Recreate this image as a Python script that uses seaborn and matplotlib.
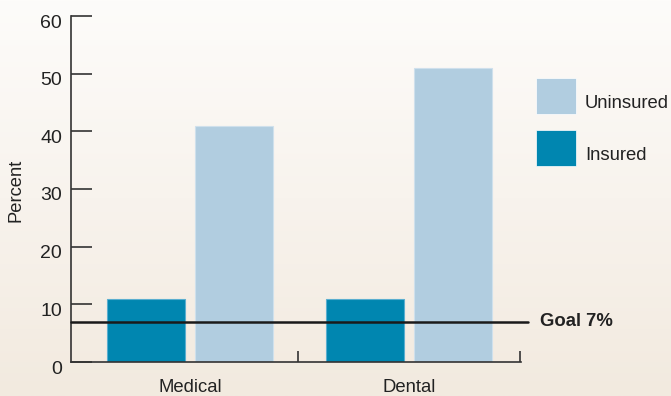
import numpy as np
import pandas as pd
import matplotlib
matplotlib.use("Agg")
import matplotlib.pyplot as plt
import matplotlib.transforms as mtransforms
from matplotlib.colors import LinearSegmentedColormap
from matplotlib.patches import Rectangle
import seaborn as sns

# Data
categories = ["Medical", "Dental"]
insured = [11, 11]
uninsured = [41, 51]
goal = 7
y_ticks = [0, 10, 20, 30, 40, 50, 60]

df = pd.DataFrame({
    "Category": categories * 2,
    "Group": ["Insured"] * 2 + ["Uninsured"] * 2,
    "Percent": insured + uninsured,
})

sns.set_style("white")
plt.rcParams["font.family"] = ["Liberation Sans", "DejaVu Sans"]

W, H = 671, 396
fig = plt.figure(figsize=(W / 100, H / 100), dpi=100)

# Soft vertical gradient background
bg = fig.add_axes([0, 0, 1, 1], zorder=-10)
grad = np.linspace(0, 1, 256).reshape(-1, 1)
cmap_bg = LinearSegmentedColormap.from_list("bg", ["#fdfcfa", "#f8f3ed", "#f2eadf"])
bg.imshow(grad, aspect="auto", cmap=cmap_bg, extent=[0, 1, 0, 1], origin="upper")
bg.set_axis_off()

c_ins = "#0086b0"
c_unins = "#b1cde0"
text_c = "#222222"

x0, x1 = 71, 521
y0, y1 = 362, 16
ax = fig.add_axes([x0 / W, (H - y0) / H, (x1 - x0) / W, (y0 - y1) / H])
ax.patch.set_alpha(0)

sns.barplot(data=df, x="Category", y="Percent", hue="Group",
            hue_order=["Insured", "Uninsured"], order=categories,
            palette={"Insured": c_ins, "Uninsured": c_unins},
            width=0.8, gap=0.11, ax=ax, legend=False, saturation=1)

for p in ax.patches:
    fc = p.get_facecolor()
    edge = "#5aaed0" if fc[0] < 0.1 else "#cfe0ec"
    p.set_edgecolor(edge)
    p.set_linewidth(0.8)

ax.set_xlim(-0.543, 1.511)
ax.set_ylim(0, 60)

# Goal line
ax.plot([-0.543, 1.543], [goal, goal], color="#1a1a1a", lw=1.8, clip_on=False, zorder=5)
ax.text(1.60, goal, f"Goal {goal}%", fontsize=13.3, fontweight="bold",
        color=text_c, va="center", ha="left", clip_on=False)

for s in ["top", "right"]:
    ax.spines[s].set_visible(False)
for s in ["left", "bottom"]:
    ax.spines[s].set_color("#333333")
    ax.spines[s].set_linewidth(1.2)

ax.set_yticks(y_ticks)
ax.set_yticklabels([str(t) for t in y_ticks])
ax.tick_params(axis="y", direction="in", length=15, width=1.2, color="#333333",
               labelsize=14, pad=6.5, labelcolor=text_c, left=True)
shift = mtransforms.ScaledTranslation(0, -5 / 100, fig.dpi_scale_trans)
for lbl in ax.get_yticklabels():
    lbl.set_transform(lbl.get_transform() + shift)

ax.tick_params(axis="x", length=0, labelsize=13.3, pad=12, labelcolor=text_c, bottom=True)
ax.set_xticks(minor=True, ticks=[0.493, 1.508])
ax.tick_params(axis="x", which="minor", direction="in", length=8, width=1.2,
               color="#333333", bottom=True)
ax.set_xlabel("")
ax.set_ylabel("")
fig.text(16 / W, (H - 190) / H, "Percent", rotation=90, fontsize=13.2,
         color=text_c, va="center", ha="center")

# Legend swatches
for label, color, top in [("Uninsured", c_unins, 78), ("Insured", c_ins, 130)]:
    fig.add_artist(Rectangle((536 / W, (H - top - 36) / H), 40 / W, 36 / H,
                             transform=fig.transFigure, facecolor=color,
                             edgecolor="#ffffff", linewidth=0.5))
    fig.text(585 / W, (H - top - 25) / H, label, fontsize=13.3, color=text_c,
             va="center", ha="left")

fig.savefig("out.png", dpi=100)
